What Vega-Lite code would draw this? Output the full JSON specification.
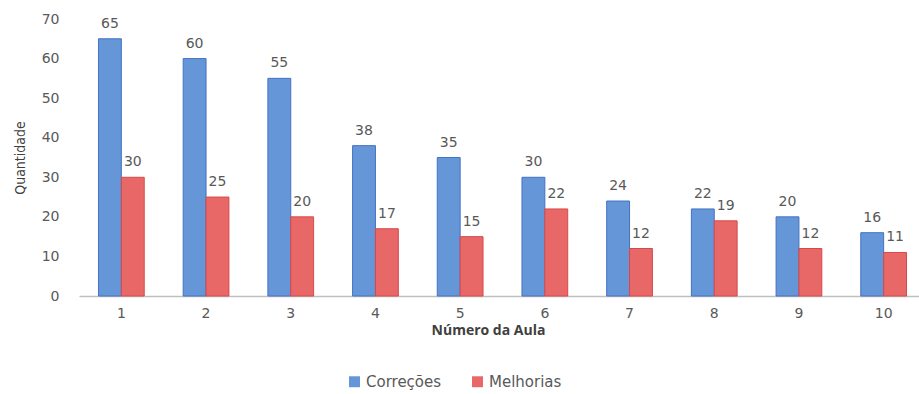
{
  "$schema": "https://vega.github.io/schema/vega-lite/v6.json",
  "width": 847,
  "height": 277,
  "autosize": {"type": "none"},
  "padding": {"left": 79, "top": 19, "right": 0, "bottom": 98},
  "background": "white",
  "config": {
    "view": {"stroke": null},
    "font": "Open Sans",
    "axis": {"labelColor": "#595959", "titleColor": "#404040", "labelFont": "DejaVu Sans", "grid": false}
  },
  "data": {
    "values": [
      {"aula": "1", "serie": "Correções", "qtd": 65},
      {"aula": "1", "serie": "Melhorias", "qtd": 30},
      {"aula": "2", "serie": "Correções", "qtd": 60},
      {"aula": "2", "serie": "Melhorias", "qtd": 25},
      {"aula": "3", "serie": "Correções", "qtd": 55},
      {"aula": "3", "serie": "Melhorias", "qtd": 20},
      {"aula": "4", "serie": "Correções", "qtd": 38},
      {"aula": "4", "serie": "Melhorias", "qtd": 17},
      {"aula": "5", "serie": "Correções", "qtd": 35},
      {"aula": "5", "serie": "Melhorias", "qtd": 15},
      {"aula": "6", "serie": "Correções", "qtd": 30},
      {"aula": "6", "serie": "Melhorias", "qtd": 22},
      {"aula": "7", "serie": "Correções", "qtd": 24},
      {"aula": "7", "serie": "Melhorias", "qtd": 12},
      {"aula": "8", "serie": "Correções", "qtd": 22},
      {"aula": "8", "serie": "Melhorias", "qtd": 19},
      {"aula": "9", "serie": "Correções", "qtd": 20},
      {"aula": "9", "serie": "Melhorias", "qtd": 12},
      {"aula": "10", "serie": "Correções", "qtd": 16},
      {"aula": "10", "serie": "Melhorias", "qtd": 11}
    ]
  },
  "encoding": {
    "x": {
      "field": "aula", "type": "ordinal", "sort": null,
      "scale": {"paddingInner": 0.46, "paddingOuter": 0.23},
      "axis": {
        "title": "Número da Aula", "titleFontWeight": "bold", "titleFontSize": 14, "titleFont": "Open Sans",
        "titlePadding": 3, "titleX": 409, "labelAngle": 0, "labelFontSize": 14, "labelPadding": 10,
        "ticks": false, "domainColor": "#bfbfbf", "domainWidth": 1.5
      }
    },
    "xOffset": {"field": "serie", "type": "nominal"},
    "y": {
      "field": "qtd", "type": "quantitative",
      "scale": {"domain": [0, 70]},
      "axis": {
        "title": "Quantidade", "titleFont": "DejaVu Sans Condensed", "titleFontWeight": "normal", "titleFontSize": 14,
        "titlePadding": 14, "values": [0, 10, 20, 30, 40, 50, 60, 70],
        "labelFontSize": 14, "labelPadding": 20, "domain": false, "ticks": false
      }
    }
  },
  "layer": [
    {
      "mark": {"type": "bar", "strokeWidth": 1},
      "encoding": {
        "color": {
          "field": "serie", "type": "nominal",
          "scale": {"domain": ["Correções", "Melhorias"], "range": ["#6596d8", "#e86868"]},
          "legend": {
            "title": null, "orient": "none", "direction": "horizontal",
            "legendX": 268, "legendY": 355, "symbolType": "square", "symbolSize": 120,
            "labelFontSize": 15, "labelColor": "#595959", "labelFont": "DejaVu Sans", "columnPadding": 28, "symbolStrokeWidth": 0
          }
        },
        "stroke": {
          "field": "serie", "type": "nominal",
          "scale": {"domain": ["Correções", "Melhorias"], "range": ["#4472c4", "#d94848"]},
          "legend": null
        }
      }
    },
    {
      "mark": {"type": "text", "dy": -15, "fontSize": 14, "color": "#595959", "font": "DejaVu Sans"},
      "encoding": {"text": {"field": "qtd", "type": "quantitative"}}
    }
  ]
}
